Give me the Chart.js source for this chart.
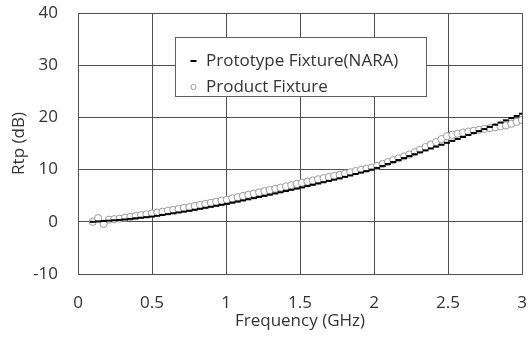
<!DOCTYPE html>
<html>
<head>
<meta charset="utf-8">
<script src="https://cdn.jsdelivr.net/npm/chart.js@4/dist/chart.umd.min.js"></script>
<style>
  body { margin: 0; background: #fff; }
  canvas { display: block; }
</style>
</head>
<body>
<canvas id="chart" width="528" height="343"></canvas>
<script>
// Frequency points (GHz)
const freq = [
  0.100, 0.136, 0.173, 0.209, 0.245, 0.281, 0.318, 0.354, 0.390, 0.426,
  0.463, 0.499, 0.535, 0.571, 0.608, 0.644, 0.680, 0.716, 0.753, 0.789,
  0.825, 0.861, 0.898, 0.934, 0.970, 1.006, 1.043, 1.079, 1.115, 1.151,
  1.188, 1.224, 1.260, 1.296, 1.333, 1.369, 1.405, 1.441, 1.478, 1.514,
  1.550, 1.586, 1.623, 1.659, 1.695, 1.731, 1.768, 1.804, 1.840, 1.876,
  1.913, 1.949, 1.985, 2.021, 2.058, 2.094, 2.130, 2.166, 2.203, 2.239,
  2.275, 2.311, 2.348, 2.384, 2.420, 2.456, 2.493, 2.529, 2.565, 2.601,
  2.638, 2.674, 2.710, 2.746, 2.783, 2.819, 2.855, 2.891, 2.928, 2.964,
  3.000
];

// Rtp (dB) - prototype fixture (NARA)
const prototypeRtp = [
  0.00, 0.07, 0.15, 0.22, 0.29, 0.36, 0.45, 0.56, 0.67, 0.78,
  0.89, 1.00, 1.15, 1.31, 1.47, 1.63, 1.79, 1.95, 2.11, 2.30,
  2.49, 2.68, 2.87, 3.06, 3.25, 3.43, 3.66, 3.87, 4.09, 4.31,
  4.53, 4.74, 4.96, 5.19, 5.43, 5.66, 5.89, 6.12, 6.36, 6.59,
  6.84, 7.08, 7.34, 7.58, 7.83, 8.07, 8.32, 8.61, 8.88, 9.16,
  9.44, 9.71, 9.99, 10.32, 10.70, 11.08, 11.45, 11.83, 12.21, 12.59,
  12.95, 13.31, 13.68, 14.04, 14.40, 14.76, 15.13, 15.50, 15.88, 16.25,
  16.64, 17.01, 17.38, 17.76, 18.18, 18.60, 19.02, 19.44, 19.87, 20.28,
  20.70
];

// Rtp (dB) - product fixture
const productRtp = [
  0.00, 0.70, -0.40, 0.40, 0.50, 0.60, 0.78, 0.94, 1.10, 1.27,
  1.43, 1.60, 1.77, 1.94, 2.12, 2.29, 2.46, 2.64, 2.81, 3.03,
  3.23, 3.43, 3.63, 3.84, 4.04, 4.23, 4.50, 4.71, 4.94, 5.17,
  5.40, 5.64, 5.86, 6.09, 6.33, 6.56, 6.79, 7.02, 7.26, 7.49,
  7.70, 7.92, 8.14, 8.35, 8.57, 8.79, 9.00, 9.25, 9.48, 9.71,
  9.95, 10.18, 10.41, 10.71, 11.08, 11.44, 11.80, 12.16, 12.53, 12.89,
  13.33, 13.81, 14.31, 14.79, 15.30, 15.84, 16.40, 16.67, 16.89, 17.10,
  17.28, 17.45, 17.62, 17.80, 17.95, 18.12, 18.29, 18.46, 18.78, 19.14,
  19.50
];

const xTicks = [0, 0.5, 1, 1.5, 2, 2.5, 3];
const yTicks = [-10, 0, 10, 20, 30, 40];
const seriesLabels = ['Prototype Fixture(NARA)', 'Product Fixture'];

const FONT = 'Open Sans';
const TEXT = '#333333';
const GRID = '#505050';

// Legend box drawn inside the plot area
const boxLegend = {
  id: 'boxLegend',
  afterDraw(chart) {
    const ctx = chart.ctx;
    const x = 175.5, y = 37.5, w = 251, h = 59;
    ctx.save();
    ctx.fillStyle = '#fff';
    ctx.fillRect(x, y, w, h);
    ctx.strokeStyle = '#606060';
    ctx.lineWidth = 1;
    ctx.strokeRect(x, y, w, h);

    // dash marker
    ctx.strokeStyle = '#000';
    ctx.lineWidth = 2;
    ctx.beginPath();
    ctx.moveTo(190.5, 61);
    ctx.lineTo(196.5, 61);
    ctx.stroke();
    // circle marker
    ctx.strokeStyle = '#999';
    ctx.lineWidth = 1;
    ctx.beginPath();
    ctx.arc(193.5, 87, 2.6, 0, Math.PI * 2);
    ctx.stroke();

    ctx.fillStyle = TEXT;
    ctx.font = '17px "' + FONT + '"';
    ctx.textBaseline = 'middle';
    ctx.textAlign = 'left';
    ctx.fillText(chart.data.datasets[0].label, 206, 61);
    ctx.fillText(chart.data.datasets[1].label, 206, 87);
    ctx.restore();
  }
};

const ctx = document.getElementById('chart').getContext('2d');
new Chart(ctx, {
  type: 'scatter',
  data: {
    datasets: [
      {
        label: seriesLabels[0],
        data: freq.map((f, i) => ({ x: f, y: prototypeRtp[i] })),
        showLine: false,
        pointStyle: 'line',
        pointRadius: 3,
        borderColor: '#000',
        backgroundColor: '#000',
        pointBorderWidth: 2
      },
      {
        label: seriesLabels[1],
        data: freq.map((f, i) => ({ x: f, y: productRtp[i] })),
        showLine: false,
        pointStyle: 'circle',
        pointRadius: 3.6,
        borderColor: '#999999',
        backgroundColor: '#fff',
        pointBorderWidth: 1
      }
    ]
  },
  options: {
    responsive: false,
    animation: false,
    events: [],
    layout: { padding: { top: 13, right: 5, left: 0, bottom: 0 } },
    plugins: {
      legend: { display: false },
      tooltip: { enabled: false }
    },
    scales: {
      x: {
        type: 'linear',
        min: 0,
        max: 3,
        afterBuildTicks: axis => { axis.ticks = xTicks.map(v => ({ value: v })); },
        afterFit: axis => {
          axis.height = 69;
          axis.paddingLeft = 0;
          axis.paddingRight = 0;
        },
        grid: { color: GRID, drawTicks: false },
        border: { color: GRID },
        ticks: {
          color: TEXT,
          font: { family: FONT, size: 17 },
          padding: 19,
          maxRotation: 0,
          callback: v => String(v)
        },
        title: {
          display: true,
          text: 'Frequency (GHz)',
          color: TEXT,
          font: { family: FONT, size: 17 },
          padding: { top: 0, bottom: 12 }
        }
      },
      y: {
        type: 'linear',
        min: -10,
        max: 40,
        afterBuildTicks: axis => { axis.ticks = yTicks.map(v => ({ value: v })); },
        afterFit: axis => {
          axis.width = 78;
          axis.paddingTop = 0;
          axis.paddingBottom = 0;
        },
        grid: { color: GRID, drawTicks: false },
        border: { color: GRID },
        ticks: {
          color: TEXT,
          font: { family: FONT, size: 17 },
          padding: 20,
          callback: v => String(v)
        },
        title: {
          display: true,
          text: 'Rtp (dB)',
          color: TEXT,
          font: { family: FONT, size: 17 },
          padding: { top: 9, bottom: 0 }
        }
      }
    }
  },
  plugins: [boxLegend]
});
</script>
</body>
</html>
